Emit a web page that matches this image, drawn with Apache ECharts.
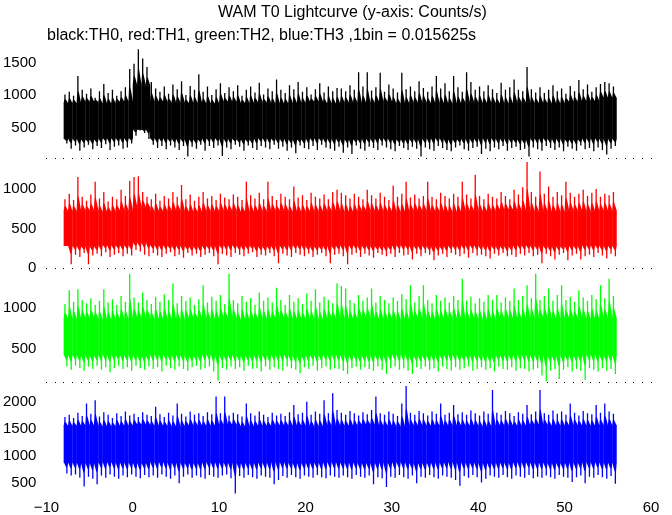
<!DOCTYPE html>
<html>
<head>
<meta charset="utf-8">
<script src="https://cdn.jsdelivr.net/npm/echarts@6/dist/echarts.min.js"></script>
<style>html,body{margin:0;padding:0;background:#fff}#c{width:672px;height:515px}</style>
</head>
<body>
<div id="c"></div>
<script>
// ---- data ----
const titleText = 'WAM T0 Lightcurve (y-axis: Counts/s)';
const subText = 'black:TH0, red:TH1, green:TH2, blue:TH3 ,1bin = 0.015625s';
const binStart = -8;      // s, start of the first envelope bin
const binWidth = 0.5;     // s, resolution of the spike envelopes (hi / lo)
const coreWidth = 2;      // s, resolution of the dense-core envelopes
const xTicks = [-10, 0, 10, 20, 30, 40, 50, 60];

// TH0 (black)
const th0Hi = [1010,1050,990,1290,1080,1020,1100,960,1060,1170,1030,1080,990,1060,1120,1400,
1480,1700,1560,1430,1200,1100,1050,1130,1020,1160,1090,1210,1000,1140,1080,1320,
1050,1130,1000,1090,1180,1030,1120,1060,1150,990,1080,1130,1040,1190,1010,1100,
1060,1240,1080,1030,1150,1090,1200,1050,1120,1010,1090,1180,1040,1130,1060,1110,
1100,1060,1150,1080,1350,1130,1350,1070,1120,1340,1050,1160,1100,1040,1340,1090,
1130,1060,1210,1110,1050,1130,1290,1100,1180,1060,1290,1120,1050,1350,1200,1080,
1130,1060,1150,1090,1030,1190,1080,1120,1240,1080,1060,1430,1090,1040,1120,1030,
1080,1150,1060,1100,1020,1140,1060,1230,1090,1160,1050,1120,1170,1200,1180,1130];
const th0Lo = [260,180,230,150,200,240,170,220,190,250,160,210,230,180,200,260,
380,460,420,330,240,190,220,170,230,200,160,220,60,210,180,240,
150,220,190,230,70,200,170,240,210,150,230,190,160,220,200,170,
240,180,210,150,200,110,230,190,170,220,160,240,200,180,150,210,
120,200,100,230,180,150,210,190,160,230,200,170,140,220,190,160,
210,180,60,200,170,150,220,190,160,140,200,230,170,150,190,210,
100,180,140,200,170,220,150,190,210,160,180,60,200,170,150,220,
190,160,200,140,210,180,150,230,170,190,140,200,160,90,180,220];
const th0CoreLo = [330,320,340,340,470,340,330,320,340,330,320,340,330,320,340,330,
320,330,340,320,330,340,320,330,340,330,320,340,330,320,340,330];
const th0CoreHi = [880,900,870,900,1150,900,890,880,870,900,880,890,870,880,900,870,
890,880,900,870,890,880,870,890,880,870,890,880,870,900,910,960];

// TH1 (red)
const th1Hi = [870,940,860,1150,900,850,930,1090,880,960,840,900,870,990,910,1100,
1150,1160,960,900,870,940,850,910,880,960,900,1050,870,930,850,900,
960,880,910,860,940,890,870,930,900,860,1090,920,880,950,870,1090,
910,860,940,900,870,1030,890,920,860,950,900,880,930,870,960,990,
950,920,880,940,900,870,990,920,880,950,900,860,1040,900,940,1090,
890,930,880,910,1090,900,870,950,910,880,940,900,1090,930,880,1180,
910,870,940,900,880,960,910,870,990,930,1020,1340,960,900,1220,940,
1030,900,960,920,1090,950,900,940,990,910,950,1000,900,940,920,960];
const th1Lo = [280,50,170,140,190,50,160,180,150,200,140,170,190,150,180,160,
230,210,170,150,190,160,140,180,200,150,170,130,190,160,180,140,
170,190,150,50,180,160,140,190,170,150,180,200,140,170,160,190,
150,60,180,160,140,190,170,150,180,140,170,190,150,60,170,180,
150,50,170,190,140,180,160,130,190,170,150,180,140,190,160,170,
110,180,150,190,170,100,160,180,140,190,170,150,180,130,190,160,
170,150,120,180,160,190,150,170,140,180,160,190,150,170,60,180,
150,110,170,190,100,160,180,110,150,170,140,190,160,120,180,150];
const th1CoreLo = [280,270,290,290,320,290,280,270,280,290,280,270,280,290,270,280,
290,280,270,290,280,270,280,290,280,270,290,280,270,280,290,280];
const th1CoreHi = [720,730,710,730,770,720,730,710,720,730,710,720,730,710,720,730,
710,730,720,710,730,720,710,730,720,740,730,720,710,730,720,730];

// TH2 (green)
const th2Hi = [1050,1220,1080,1230,1100,1060,1120,1040,1090,1230,1070,1110,1040,1150,1080,1420,
1130,1070,1190,1100,1050,1140,1080,1170,1100,1300,1060,1150,1090,1130,1040,1110,
1280,1070,1140,1090,1160,1050,1420,1100,1060,1150,1080,1120,1040,1190,1090,1130,
1070,1250,1100,1040,1160,1080,1120,1050,1180,1090,1230,1070,1140,1100,1060,1300,
1270,1240,1100,1060,1160,1090,1130,1240,1070,1150,1100,1060,1130,1090,1170,1110,
1280,1070,1150,1280,1100,1060,1160,1090,1130,1070,1150,1100,1360,1090,1140,1060,
1120,1080,1160,1100,1160,1070,1130,1090,1240,1100,1150,1280,1120,1420,1100,1150,
1240,1090,1160,1280,1100,1140,1080,1220,1130,1090,1160,1110,1280,1120,1360,1150];
const th2Lo = [290,250,300,270,240,290,260,300,250,280,220,270,300,260,280,240,
300,270,250,290,260,280,230,300,270,250,290,260,240,280,300,250,
270,290,230,120,270,250,290,260,280,240,300,260,270,230,290,250,
280,260,240,290,270,250,210,280,260,300,240,270,290,250,270,260,
240,200,270,290,250,280,260,240,290,250,200,270,290,250,270,240,
200,280,260,290,250,270,230,290,260,240,280,250,270,290,240,260,
280,250,270,230,290,260,250,280,240,270,260,230,250,270,180,110,
240,260,140,250,280,230,260,240,130,270,250,230,270,240,260,200];
const th2CoreLo = [430,420,440,430,420,440,430,420,440,430,420,430,440,420,430,440,
430,420,430,440,420,430,440,430,420,430,440,430,420,430,440,430];
const th2CoreHi = [870,880,860,870,890,870,860,880,870,890,860,870,880,870,860,880,
870,890,870,860,880,870,880,870,860,880,870,890,870,880,870,880];

// TH3 (blue)
const th3Hi = [1720,1760,1700,1800,1740,1970,1780,2030,1730,1810,1760,1700,1790,1740,1820,1750,
1780,1720,1810,1760,1740,1910,1770,1720,1800,1750,1970,1780,1730,1820,1760,1790,
1740,1810,1770,2100,1790,2100,1750,1800,1770,1730,1970,1790,1750,1820,1760,1720,
1800,1750,1780,1740,1810,1940,1770,1800,2000,1760,1820,1780,2030,1790,2160,1850,
1800,1760,1830,1790,1750,1810,1770,1850,2100,1790,1760,1820,1780,1740,1970,2290,
1800,1760,1830,1790,1750,1820,1780,1970,1760,1800,1940,1770,1810,1760,1840,1790,
1750,1820,1780,2220,1800,1760,1830,1790,1740,1810,1780,1940,1770,1820,2220,1790,
1760,1840,1780,1820,1760,1970,1800,1750,1830,1790,1770,1940,1800,1970,1820,1780];
const th3Lo = [680,640,660,600,440,620,580,480,640,600,660,620,580,640,610,660,
620,590,650,610,640,600,660,620,580,640,500,620,660,600,640,610,
580,650,620,600,640,660,590,310,630,600,650,610,580,640,620,600,
480,560,630,600,650,610,580,640,620,600,650,610,590,640,620,600,
640,610,580,650,620,600,640,480,610,590,430,620,600,650,610,580,
640,500,620,600,650,610,580,640,620,600,560,450,630,600,650,610,
510,580,640,620,600,650,610,580,640,620,600,650,590,620,600,640,
610,580,650,620,600,520,610,640,500,620,600,650,610,580,630,490];
const th3CoreLo = [880,870,890,880,870,890,880,870,890,880,870,880,890,870,880,890,
880,870,880,890,870,880,890,880,870,880,890,880,870,880,890,880];
const th3CoreHi = [1560,1570,1550,1560,1580,1560,1550,1570,1560,1580,1550,1560,1570,1560,1550,1570,
1560,1580,1560,1550,1570,1560,1570,1560,1550,1570,1560,1580,1560,1570,1560,1570];

// axis ranges and tick labels of the four stacked panels
const yMin = [38, -24, 102, 318];
const yMax = [1735, 1390, 1465, 2366];
const yTicks = [[500, 1000, 1500], [0, 500, 1000], [500, 1000], [500, 1000, 1500, 2000]];
const panelColors = ['#000000', '#ff0000', '#00ff00', '#0000ff'];

// ---- chart ----
const panels = [
  [th0Hi, th0Lo, th0CoreLo, th0CoreHi],
  [th1Hi, th1Lo, th1CoreLo, th1CoreHi],
  [th2Hi, th2Lo, th2CoreLo, th2CoreHi],
  [th3Hi, th3Lo, th3CoreLo, th3CoreHi]
];
const perCore = Math.round(coreWidth / binWidth);
function buildData(p) {
  const [hi, lo, cLo, cHi] = p;
  return hi.map((h, k) => [binStart + k * binWidth, lo[k], h,
    cLo[Math.floor(k / perCore)], cHi[Math.floor(k / perCore)]]);
}
// each bin: dense core block, plus an upward spike to the bin maximum and a
// downward spike to the bin minimum (tapered so the edge of the core is ragged)
function renderItem(params, api) {
  const t = api.value(0), lo = api.value(1), hi = api.value(2);
  const cLo = api.value(3), cHi = api.value(4);
  const a = api.coord([t, cHi]);
  const b = api.coord([t + binWidth, cLo]);
  const xL = a[0], xR = b[0] + 0.3;
  const yCH = a[1], yCL = b[1];
  const xu = api.coord([t + binWidth * 0.3, hi]);
  const xd = api.coord([t + binWidth * 0.75, lo]);
  const yHi = xu[1], yLo = xd[1];
  const hw = 0.65;
  const uMid = yCH - 0.45 * (yCH - yHi);
  const dMid = yCL + 0.45 * (yLo - yCL);
  const fill = api.visual('color');
  return {
    type: 'group',
    children: [
      { type: 'rect', shape: { x: xL, y: yCH, width: xR - xL, height: yCL - yCH }, style: { fill } },
      { type: 'polygon', shape: { points: [[xL, yCH + 0.5], [xu[0] - hw, uMid], [xu[0] - hw, yHi], [xu[0] + hw, yHi], [xu[0] + hw, uMid], [xR, yCH + 0.5]] }, style: { fill } },
      { type: 'polygon', shape: { points: [[xL, yCL - 0.5], [xd[0] - hw, dMid], [xd[0] - hw, yLo], [xd[0] + hw, yLo], [xd[0] + hw, dMid], [xR, yCL - 0.5]] }, style: { fill } }
    ]
  };
}

const font = 'Liberation Sans, Arial, Helvetica, sans-serif';
const gridTops = [47, 158, 270, 382];
const gridHeights = [111, 112, 112, 111];
const grids = [], xAxes = [], yAxes = [], series = [];
for (let i = 0; i < 4; i++) {
  grids.push({ left: 45, right: 21, top: gridTops[i], height: gridHeights[i] });
  const last = i === 3;
  xAxes.push({
    gridIndex: i, type: 'value', min: xTicks[0], max: xTicks[xTicks.length - 1], interval: 10,
    axisLine: { show: false },
    splitLine: { show: false },
    axisTick: { show: !last, length: 1, lineStyle: { color: '#000' } },
    minorTick: { show: !last, splitNumber: 10, length: 1, lineStyle: { color: '#000' } },
    axisLabel: {
      show: last, color: '#000', fontSize: 15, fontFamily: font, margin: 7,
      formatter: v => String(v).replace('-', '\u2212')
    }
  });
  yAxes.push({
    gridIndex: i, type: 'value', min: yMin[i], max: yMax[i],
    axisLine: { show: false }, axisTick: { show: false }, splitLine: { show: false },
    axisLabel: { customValues: yTicks[i], color: '#000', fontSize: 15, fontFamily: font, margin: 10,
      formatter: v => String(v) }
  });
  series.push({
    type: 'custom', xAxisIndex: i, yAxisIndex: i, silent: true,
    itemStyle: { color: panelColors[i] },
    encode: { x: 0, y: [1, 2] },
    renderItem, data: buildData(panels[i])
  });
}

const chart = echarts.init(document.getElementById('c'), null, { renderer: 'canvas' });
chart.setOption({
  animation: false,
  backgroundColor: '#fff',
  title: [
    { text: titleText, left: 213, top: 0,
      textStyle: { fontSize: 16, fontWeight: 'normal', color: '#000', fontFamily: font } },
    { text: subText, left: 42, top: 23,
      textStyle: { fontSize: 16, fontWeight: 'normal', color: '#000', fontFamily: font } }
  ],
  grid: grids, xAxis: xAxes, yAxis: yAxes, series
});
</script>
</body>
</html>
